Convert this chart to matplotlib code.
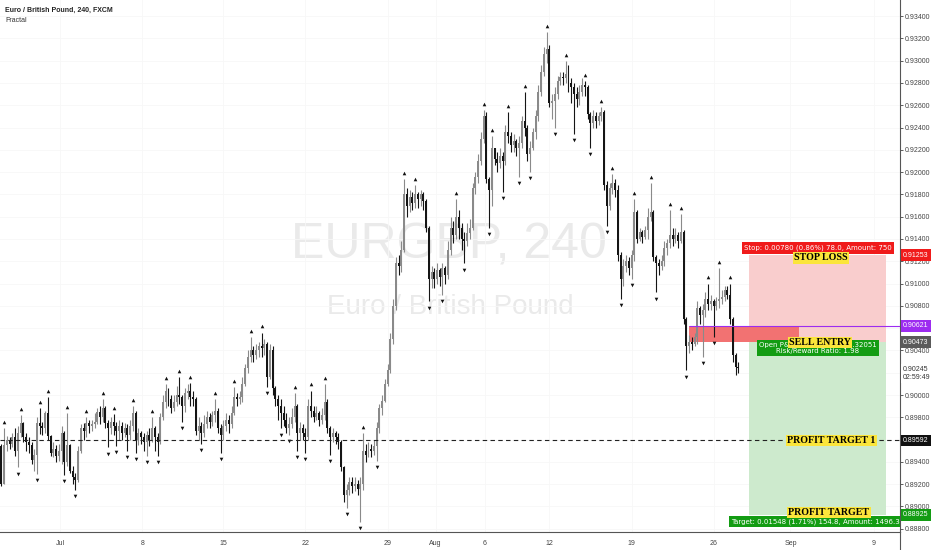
import numpy as np
import matplotlib.pyplot as plt
from matplotlib.lines import Line2D
from matplotlib.patches import Rectangle

plt.rcParams['font.family'] = ['Liberation Sans', 'DejaVu Sans']

# EURGBP 4H bars, prices x 1e4 (each bar opens at the previous close)
first_open = 8954
closes = [
    8920, 8955, 8960, 8956, 8962, 8950, 8966, 8975, 8962, 8958,
    8955, 8942, 8946, 8975, 8972, 8970, 8984, 8963, 8948, 8952,
    8945, 8950, 8966, 8940, 8955, 8932, 8926, 8924, 8950, 8970,
    8968, 8975, 8972, 8974, 8976, 8985, 8980, 8988, 8975, 8970,
    8976, 8972, 8968, 8972, 8966, 8970, 8964, 8972, 8984, 8960,
    8966, 8962, 8958, 8964, 8960, 8970, 8962, 8958, 8980, 8994,
    9004, 8996, 8988, 8994, 9000, 8998, 8990, 9002, 9004, 8998,
    8996, 8968, 8972, 8966, 8974, 8980, 8976, 8982, 8986, 8970,
    8964, 8972, 8978, 8974, 8984, 8998, 8996, 8998, 9010, 9024,
    9034, 9040, 9036, 9040, 9044, 9042, 9046, 9016, 9040, 9006,
    8996, 8990, 8984, 8978, 8970, 8974, 8980, 8990, 8966, 8970,
    8966, 8962, 8990, 8986, 8980, 8984, 8978, 8982, 8994, 8970,
    8962, 8966, 8962, 8958, 8935, 8910, 8915, 8922, 8918, 8920,
    8916, 8920, 8950, 8946, 8952, 8950, 8954, 8970, 8988, 8995,
    9010, 9022, 9050, 9080, 9118, 9116, 9130, 9180, 9170, 9178,
    9172, 9180, 9176, 9180, 9174, 9150, 9104, 9110, 9104, 9112,
    9106, 9114, 9108, 9130, 9150, 9144, 9160, 9150, 9140, 9138,
    9145, 9150, 9186, 9196, 9210, 9230, 9250, 9194, 9184, 9222,
    9212, 9208, 9214, 9210, 9236, 9232, 9224, 9228, 9222, 9226,
    9246, 9240, 9216, 9222, 9236, 9250, 9272, 9290, 9306, 9310,
    9262, 9264, 9270, 9282, 9285, 9284, 9288, 9280, 9276, 9270,
    9266, 9272, 9278, 9276, 9252, 9244, 9250, 9246, 9250, 9254,
    9188, 9170, 9186, 9190, 9184, 9126, 9104, 9116, 9120, 9114,
    9126, 9164, 9140, 9146, 9142, 9148, 9160, 9164, 9124, 9118,
    9116, 9120, 9132, 9136, 9144, 9140, 9144, 9138, 9146, 9068,
    9044, 9048, 9046, 9052, 9078, 9072, 9076, 9086, 9082, 9084,
    9080, 9084, 9086, 9088, 9094, 9090, 9068, 9036, 9025, 9024.5,
]
highs = [
    8956, 8970, 8963, 8962, 8966, 8970, 8972, 8982, 8976, 8966,
    8962, 8958, 8952, 8980, 8988, 8976, 8986, 8998, 8964, 8958,
    8955, 8956, 8972, 8968, 8984, 8956, 8936, 8930, 8954, 8974,
    8975, 8980, 8978, 8978, 8984, 8988, 8990, 8996, 8990, 8978,
    8980, 8983, 8976, 8978, 8976, 8975, 8974, 8978, 8990, 8986,
    8970, 8968, 8966, 8968, 8970, 8980, 8972, 8966, 8984, 9000,
    9010, 9006, 9000, 9000, 9008, 9016, 9000, 9006, 9010, 9011,
    9004, 8998, 8980, 8976, 8982, 8986, 8984, 8986, 8996, 8988,
    8974, 8978, 8984, 8982, 8990, 9007, 9002, 9004, 9016, 9028,
    9040, 9052, 9044, 9046, 9048, 9056, 9050, 9048, 9046, 9044,
    9008, 9000, 8996, 8990, 8984, 8980, 8988, 9002, 8992, 8976,
    8974, 8970, 8996, 9004, 8990, 8990, 8986, 8988, 9010, 8996,
    8972, 8970, 8968, 8966, 8960, 8936, 8920, 8926, 8926, 8926,
    8924, 8926, 8966, 8956, 8958, 8956, 8960, 8976, 8992, 9000,
    9014, 9028, 9056, 9086, 9124, 9126, 9138, 9194, 9186, 9184,
    9182, 9188, 9182, 9184, 9182, 9176, 9152, 9116, 9114, 9118,
    9114, 9118, 9116, 9138, 9160, 9156, 9176, 9166, 9154, 9146,
    9154, 9158, 9190, 9200, 9216, 9236, 9256, 9254, 9196, 9232,
    9222, 9218, 9222, 9218, 9242, 9254, 9236, 9234, 9230, 9232,
    9250, 9272, 9242, 9228, 9240, 9256, 9278, 9296, 9312, 9326,
    9314, 9270, 9276, 9286, 9290, 9290, 9300, 9296, 9284, 9280,
    9276, 9278, 9284, 9282, 9278, 9254, 9256, 9254, 9254, 9258,
    9256, 9192, 9190, 9198, 9194, 9188, 9128, 9122, 9126, 9124,
    9130, 9176, 9166, 9150, 9148, 9152, 9168, 9190, 9166, 9126,
    9122, 9126, 9138, 9140, 9166, 9150, 9150, 9146, 9162, 9148,
    9070, 9054, 9052, 9056, 9084, 9080, 9082, 9092, 9100, 9090,
    9086, 9088, 9114, 9094, 9098, 9098, 9100, 9070, 9038, 9030,
]
lows = [
    8918, 8920, 8950, 8952, 8953, 8945, 8935, 8962, 8958, 8950,
    8948, 8938, 8932, 8929, 8965, 8964, 8966, 8960, 8945, 8944,
    8940, 8941, 8938, 8928, 8936, 8930, 8920, 8915, 8922, 8948,
    8960, 8962, 8966, 8968, 8970, 8974, 8974, 8976, 8970, 8953,
    8965, 8964, 8954, 8960, 8960, 8962, 8950, 8960, 8968, 8948,
    8955, 8956, 8950, 8945, 8954, 8958, 8950, 8945, 8956, 8978,
    8988, 8990, 8984, 8986, 8990, 8992, 8976, 8985, 8996, 8990,
    8990, 8964, 8960, 8956, 8962, 8970, 8970, 8972, 8976, 8966,
    8948, 8960, 8968, 8966, 8970, 8982, 8990, 8992, 8994, 9008,
    9020, 9030, 9030, 9032, 9034, 9034, 9036, 9007, 9014, 9000,
    8990, 8978, 8970, 8972, 8966, 8964, 8970, 8976, 8950, 8960,
    8960, 8948, 8960, 8980, 8976, 8978, 8972, 8974, 8978, 8966,
    8946, 8958, 8956, 8952, 8932, 8904, 8899, 8910, 8912, 8914,
    8910, 8886, 8915, 8940, 8944, 8944, 8946, 8941, 8966, 8982,
    8994, 9008, 9020, 9046, 9076, 9108, 9110, 9128, 9160, 9164,
    9166, 9168, 9168, 9170, 9166, 9146, 9084, 9096, 9096, 9100,
    9098, 9090, 9100, 9104, 9126, 9136, 9140, 9140, 9130, 9118,
    9134, 9140, 9148, 9180, 9190, 9206, 9226, 9190, 9150, 9170,
    9206, 9200, 9204, 9182, 9206, 9226, 9218, 9218, 9214, 9196,
    9222, 9232, 9210, 9200, 9220, 9230, 9246, 9268, 9286, 9298,
    9258, 9248, 9240, 9266, 9278, 9278, 9280, 9272, 9262, 9234,
    9258, 9260, 9268, 9268, 9248, 9222, 9240, 9240, 9242, 9246,
    9184, 9152, 9166, 9180, 9178, 9120, 9086, 9098, 9110, 9108,
    9104, 9120, 9136, 9138, 9136, 9140, 9140, 9156, 9120, 9092,
    9108, 9112, 9116, 9126, 9132, 9134, 9136, 9132, 9136, 9064,
    9022, 9038, 9040, 9044, 9046, 9064, 9034, 9070, 9076, 9076,
    9052, 9076, 9078, 9082, 9084, 9086, 9064, 9030, 9018, 9020,
]

# Williams fractal bars (bar index)
up_fractals = [1, 7, 14, 17, 24, 31, 37, 41, 48, 55, 60, 65, 69, 78, 85, 91, 95,
               107, 113, 118, 132, 147, 151, 166, 176, 179, 185, 191, 199, 206,
               213, 219, 223, 231, 237, 244, 248, 258, 262, 266]
down_fractals = [6, 13, 23, 27, 39, 42, 46, 49, 53, 57, 66, 73, 80, 97, 102, 105,
                 108, 111, 120, 126, 131, 137, 156, 161, 169, 178, 183, 189, 193,
                 202, 209, 215, 221, 226, 230, 239, 250, 256, 260]

tick_pos = [21.5, 51.5, 81, 111, 141, 158.5, 176.5, 200, 230, 260, 288, 318.5]
tick_labels = ["Jul", "8", "15", "22", "29", "Aug", "6", "12", "19", "26", "Sep", "9"]

# drawings: short position + entry zone
entry_price = 0.90473
stop_price = 0.91253
target_price = 0.88925
target1_price = 0.89592
zone_top = 0.90621
last_price = 0.90245
pos_start, pos_end = 273, 323
zone_start, zone_end = 251, 291

c = np.array(closes) / 1e4
h = np.array(highs) / 1e4
l = np.array(lows) / 1e4
o = np.r_[first_open, closes[:-1]] / 1e4
x = np.arange(len(c))

fig = plt.figure(figsize=(9.32, 5.5), dpi=100)
ax = fig.add_axes([0, 18 / 550, 900 / 932, 532 / 550])
ax.set_xlim(-0.5, 328)
ax.set_ylim(0.88771, 0.93544)
xmax = ax.get_xlim()[1]

# watermark
ax.text(0.499, 0.539, "EURGBP, 240", transform=ax.transAxes, ha='center', va='center',
        fontsize=36, color='#eaeaea', zorder=0.5)
ax.text(0.5, 0.423, "Euro / British Pound", transform=ax.transAxes, ha='center', va='center',
        fontsize=20, color='#eaeaea', zorder=0.5)

# candles
col = np.where(c >= o, '#8a8a8a', '#151515')
ax.vlines(x, l, h, colors=col, lw=0.8, zorder=3)
ax.bar(x, np.abs(c - o), bottom=np.minimum(o, c), width=0.72, color=col, lw=0, zorder=3)

# fractals
ua = np.array(up_fractals)
da = np.array(down_fractals)
ax.plot(ua, h[ua] + 0.00055, ls='none', marker='^', ms=2.6, color='#111111', mew=0, zorder=4)
ax.plot(da, l[da] - 0.00055, ls='none', marker='v', ms=2.6, color='#111111', mew=0, zorder=4)

# position tool
w = pos_end - pos_start
ax.add_patch(Rectangle((pos_start, entry_price), w, stop_price - entry_price,
                       facecolor='#f9cdcd', lw=0, zorder=1))
ax.add_patch(Rectangle((pos_start, target_price), w, entry_price - target_price,
                       facecolor='#cdeacd', lw=0, zorder=1))
ax.add_patch(Rectangle((zone_start, entry_price), zone_end - zone_start, zone_top - entry_price,
                       facecolor='#f27272', lw=0, zorder=2))
ax.hlines(zone_top, zone_start, xmax, color='#9d2cf0', lw=0.8, zorder=4)
ax.axhline(target1_price, color='#222222', lw=0.8, ls=(0, (4, 3)), zorder=4)

mid = (pos_start + pos_end) / 2
small = dict(fontsize=5, color='white', ha='center', va='center', family=['DejaVu Sans'],
             textcoords='offset points', clip_on=True, zorder=6)
ax.annotate("Stop: 0.00780 (0.86%) 78.0, Amount: 750", xy=(mid, stop_price), xytext=(0, 5.3),
            bbox=dict(boxstyle='square,pad=0.35', fc='#f01b1b', ec='none'), **small)
ax.annotate("Open P&L: 0.00228, Qty: 0.32051\nRisk/Reward Ratio: 1.98", xy=(mid, entry_price),
            xytext=(0, -4), linespacing=1.1,
            bbox=dict(boxstyle='square,pad=0.3', fc='#139c13', ec='none'), **small)
ax.annotate("Target: 0.01548 (1.71%) 154.8, Amount: 1496.32", xy=(mid, target_price), xytext=(0, -5),
            bbox=dict(boxstyle='square,pad=0.35', fc='#139c13', ec='none'), **small)

tag = dict(fontsize=7.2, weight='bold', color='black', ha='center', va='center',
           family=['Liberation Serif', 'DejaVu Serif'], textcoords='offset points', zorder=7,
           bbox=dict(boxstyle='square,pad=0.12', fc='#fbe53b', ec='none'))
ax.annotate("STOP LOSS", xy=(mid, stop_price), xytext=(2, -1.8), **tag)
ax.annotate("SELL ENTRY", xy=(mid, entry_price), xytext=(1.8, 0), **tag)
ax.annotate("PROFIT TARGET 1", xy=(mid, target1_price), xytext=(9.7, 0), **tag)
ax.annotate("PROFIT TARGET", xy=(mid, target_price), xytext=(8, 1.8), **tag)

# axes styling
yt = np.arange(0.888, 0.9341, 0.002)
ax.set_yticks(yt)
ax.set_yticklabels([f"{v:.5f}" for v in yt])
ax.yaxis.tick_right()
ax.set_xticks(tick_pos)
ax.set_xticklabels(tick_labels)
ax.set_axisbelow(True)
ax.grid(color='#f7f7f7', lw=0.6)
ax.tick_params(axis='y', length=2.5, width=0.6, colors='#444444', labelsize=5, pad=1.2)
ax.tick_params(axis='x', length=0, colors='#444444', labelsize=5, pad=6)
for s in ['top', 'left']:
    ax.spines[s].set_visible(False)
for s in ['right', 'bottom']:
    ax.spines[s].set_color('#555555')
    ax.spines[s].set_linewidth(0.8)
    ax.spines[s].set_zorder(5)
fig.add_artist(Line2D([900 / 932, 900 / 932], [0, 18 / 550], color='#555555', lw=0.8))

# price-scale labels
def scale_label(price, text, fc, tc='white'):
    ax.annotate(text, xy=(1, price), xycoords=('axes fraction', 'data'), xytext=(2.2, 0),
                textcoords='offset points', ha='left', va='center', fontsize=5, color=tc,
                bbox=dict(boxstyle='square,pad=0.35', fc=fc, ec='none'),
                annotation_clip=False, zorder=8)

scale_label(stop_price, "0.91253", '#f01b1b')
scale_label(zone_top, "0.90621", '#9d2cf0')
scale_label(entry_price, "0.90473", '#5a5a5a')
scale_label(target1_price, "0.89592", '#111111')
scale_label(target_price, "0.88925", '#139c13')
ax.annotate("0.90245\n02:59:49", xy=(1, last_price), xycoords=('axes fraction', 'data'),
            xytext=(2.2, 1.4), textcoords='offset points', ha='left', va='top', fontsize=5,
            color='#333333', linespacing=1.3, annotation_clip=False, zorder=8,
            bbox=dict(boxstyle='square,pad=0.25', fc='white', ec='none'))

# header
ax.text(0.0055, 1 - 10 / 532, "Euro / British Pound, 240, FXCM", transform=ax.transAxes,
        ha='left', va='center', fontsize=5, weight='bold', color='#222222')
ax.text(0.0055, 1 - 21 / 532, "Fractal", transform=ax.transAxes,
        ha='left', va='center', fontsize=5, color='#333333')

fig.savefig("out.png", dpi=100)
